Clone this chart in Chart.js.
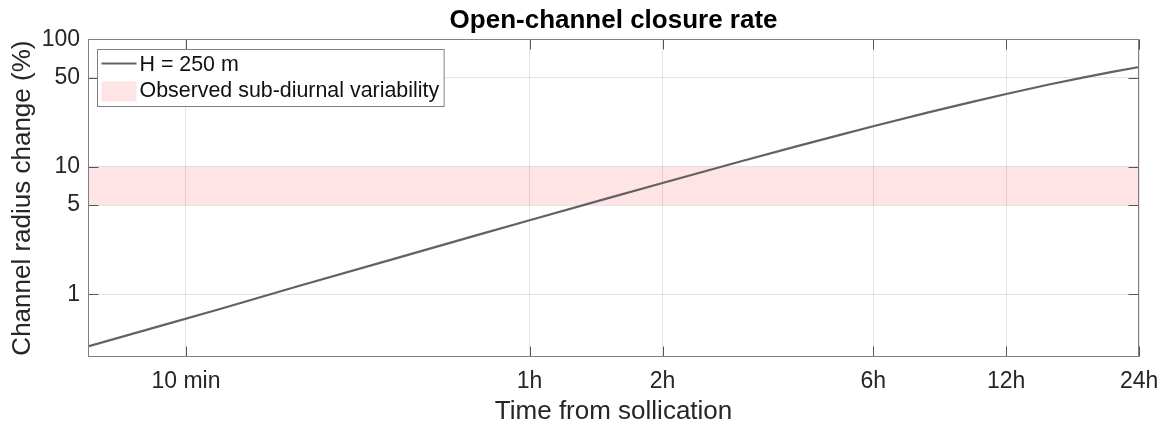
<!DOCTYPE html>
<html>
<head>
<meta charset="utf-8">
<script src="https://cdn.jsdelivr.net/npm/chart.js@4.4.1/dist/chart.umd.min.js"></script>
<style>
  html, body { margin: 0; padding: 0; background: #fff; }
</style>
</head>
<body>
<canvas id="grafico" width="1169" height="430"></canvas>
<script>
window.addEventListener("DOMContentLoaded", main);

const ID_GRAFICO = "grafico";
const FUENTE = '"Liberation Sans", Arial, Helvetica, sans-serif';

// datos (tiempo en horas, cierre en %)
const horas = [0.1, 0.15, 0.2, 0.3, 0.5, 0.75, 1, 1.5, 2, 3, 4, 5, 6, 8, 10, 12, 15, 18, 21, 24];
const cierre = [0.39, 0.58, 0.77, 1.16, 1.92, 2.87, 3.80, 5.65, 7.46, 10.98, 14.36, 17.6, 20.75, 26.7, 32.1, 37.2, 44.1, 50.2, 55.7, 60.5];
const banda = [5, 10];
const rangoX = [0.1, 24];
const rangoY = [0.322, 100];
const ticksX = [1 / 6, 1, 2, 6, 12, 24];
const etiquetasX = ["10 min", "1h", "2h", "6h", "12h", "24h"];
const ticksY = [1, 5, 10, 50, 100];

const ROSA = "rgba(255, 0, 10, 0.105)";
const GRIS_LINEA = "#626262";

// marco de los ejes con las marcas hacia dentro (estilo matlab)
const marco = {
    id: "marco",
    afterDraw(chart) {
        const {ctx, chartArea: a, scales} = chart;
        const l = Math.round(a.left) + 0.5, r = Math.round(a.right) - 0.5;
        const t = Math.round(a.top) + 0.5, b = Math.round(a.bottom) - 0.5;
        ctx.save();
        ctx.lineWidth = 1;
        ctx.strokeStyle = "#555";
        ctx.beginPath();
        for (const v of ticksX) {
            const px = Math.round(scales.x.getPixelForValue(v)) + 0.5;
            ctx.moveTo(px, b); ctx.lineTo(px, b - 10);
            ctx.moveTo(px, t); ctx.lineTo(px, t + 10);
        }
        for (const v of ticksY) {
            const py = Math.round(scales.y.getPixelForValue(v)) + 0.5;
            ctx.moveTo(l, py); ctx.lineTo(l + 10, py);
            ctx.moveTo(r, py); ctx.lineTo(r - 10, py);
        }
        ctx.stroke();
        ctx.strokeStyle = "#808080";
        ctx.strokeRect(l, t, r - l, b - t);
        ctx.restore();
    }
};

// leyenda dentro del area, con caja blanca
const leyenda = {
    id: "leyenda",
    afterDraw(chart) {
        const {ctx, chartArea: a} = chart;
        const items = chart.data.datasets.filter(d => d.label);
        ctx.save();
        ctx.font = "21.4px " + FUENTE;
        const anchoTexto = Math.max(...items.map(d => ctx.measureText(d.label).width));
        const x0 = Math.round(a.left + 9) + 0.5;
        const y0 = Math.round(a.top + 11) - 0.5;
        const muestra = 35;
        const ancho = 4 + muestra + 3 + anchoTexto + 5;
        const alto = 57;
        ctx.fillStyle = "#fff";
        ctx.fillRect(x0, y0, ancho, alto);
        ctx.strokeStyle = "#808080";
        ctx.lineWidth = 1;
        ctx.strokeRect(x0, y0, ancho, alto);
        items.forEach((d, i) => {
            const yc = y0 + 16 + i * 26;
            const xm = x0 + 4;
            if (d.fill) {
                ctx.fillStyle = d.backgroundColor;
                ctx.fillRect(xm, yc - 10, muestra, 20);
            } else {
                ctx.strokeStyle = d.borderColor;
                ctx.lineWidth = d.borderWidth;
                ctx.beginPath();
                ctx.moveTo(xm, yc - 2);
                ctx.lineTo(xm + muestra, yc - 2);
                ctx.stroke();
            }
            ctx.fillStyle = "#111";
            ctx.textBaseline = "middle";
            ctx.textAlign = "left";
            ctx.fillText(d.label, xm + muestra + 3, yc);
        });
        ctx.restore();
    }
};

function main() {
    Chart.defaults.font.family = FUENTE;

    let ctx = document.getElementById(ID_GRAFICO)?.getContext("2d");
    if (!ctx) return;

    let puntos = horas.map((h, i) => ({x: h, y: cierre[i]}));

    new Chart(ctx, {
        type: "line",
        data: {
            datasets: [
                {
                    label: "H = 250 m",
                    data: puntos,
                    borderColor: GRIS_LINEA,
                    borderWidth: 2.2,
                    pointRadius: 0,
                    fill: false
                },
                {
                    label: "",
                    data: [{x: rangoX[0], y: banda[0]}, {x: rangoX[1], y: banda[0]}],
                    borderWidth: 0,
                    pointRadius: 0,
                    fill: false
                },
                {
                    label: "Observed sub-diurnal variability",
                    data: [{x: rangoX[0], y: banda[1]}, {x: rangoX[1], y: banda[1]}],
                    borderWidth: 0,
                    pointRadius: 0,
                    backgroundColor: ROSA,
                    fill: "-1"
                }
            ]
        },
        options: {
            responsive: false,
            animation: false,
            layout: {padding: {left: 0, right: 26, top: 0, bottom: 0}},
            plugins: {
                legend: {display: false},
                tooltip: {enabled: false},
                title: {
                    display: true,
                    fullSize: false,
                    text: "Open-channel closure rate",
                    color: "#000",
                    font: {size: 26, weight: "bold"},
                    padding: {top: 5.4, bottom: 2.6}
                }
            },
            scales: {
                x: {
                    type: "logarithmic",
                    min: rangoX[0],
                    max: rangoX[1],
                    bounds: "data",
                    afterBuildTicks: s => { s.ticks = ticksX.map(v => ({value: v})); },
                    afterFit: s => { s.height = 73; },
                    ticks: {
                        callback: (v, i) => etiquetasX[i],
                        autoSkip: false,
                        maxRotation: 0,
                        padding: 10.7,
                        color: "#262626",
                        font: {size: 23}
                    },
                    grid: {color: "rgba(38, 38, 38, 0.12)", drawTicks: false},
                    border: {display: false},
                    title: {
                        display: true,
                        text: "Time from sollication",
                        color: "#262626",
                        font: {size: 26},
                        padding: {top: 0, bottom: 3}
                    }
                },
                y: {
                    type: "logarithmic",
                    min: rangoY[0],
                    max: rangoY[1],
                    bounds: "data",
                    afterBuildTicks: s => { s.ticks = ticksY.map(v => ({value: v})); },
                    afterFit: s => { s.width = 88; },
                    ticks: {
                        callback: v => String(v),
                        autoSkip: false,
                        padding: 8,
                        color: "#262626",
                        font: {size: 23}
                    },
                    grid: {color: "rgba(38, 38, 38, 0.12)", drawTicks: false},
                    border: {display: false},
                    title: {
                        display: true,
                        text: "Channel radius change (%)",
                        color: "#262626",
                        font: {size: 26},
                        padding: {top: 7.4, bottom: 0}
                    }
                }
            }
        },
        plugins: [marco, leyenda]
    });
}
</script>
</body>
</html>
